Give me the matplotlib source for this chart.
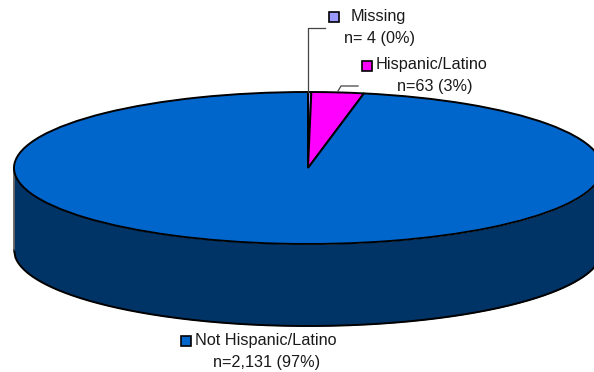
import numpy as np
import matplotlib
matplotlib.use("Agg")
import matplotlib.pyplot as plt
from matplotlib.patches import Rectangle

labels = ["Missing", "Hispanic/Latino", "Not Hispanic/Latino"]
counts = [4, 63, 2131]
notes = ["n= 4 (0%)", "n=63 (3%)", "n=2,131 (97%)"]
colors = ["#9999FF", "#FF00FF", "#0066CC"]
side_color = "#003366"

W, H = 594, 372
CX, CY = 308, 168
RX, RY = 294, 76
DEPTH = 82

plt.rcParams["font.family"] = "Liberation Sans"

fig = plt.figure(figsize=(W / 100, H / 100), dpi=100)
ax = fig.add_axes([0, 0, 1, 1])

# top of the pie is a normal pie squashed by the axis limits
ax.pie(counts, colors=colors, startangle=90, counterclock=False, radius=1,
       wedgeprops={"edgecolor": "black", "linewidth": 1.4})
ax.set_aspect("auto")
ax.set_xlim(-CX / RX, (W - CX) / RX)
ax.set_ylim(-(H - CY) / RY, CY / RY)
ax.set_axis_off()

# side wall
xs = np.linspace(-1, 1, 400)
front = -np.sqrt(1 - xs ** 2)
drop = DEPTH / RY
ax.fill_between(xs, front, front - drop, color=side_color, linewidth=0, zorder=0)
ax.plot(xs, front - drop, color="black", linewidth=1.4, zorder=0.5)
ax.plot([-1, -1], [0, -drop], color="#555555", linewidth=1.2, zorder=0.5)
ax.plot([1, 1], [0, -drop], color="#555555", linewidth=1.2, zorder=0.5)

# labels in pixel coordinates
over = fig.add_axes([0, 0, 1, 1])
over.set_xlim(0, W)
over.set_ylim(H, 0)
over.set_axis_off()
over.patch.set_alpha(0)

over.plot([308, 308, 325], [92, 27.5, 27.5], color="#444444", linewidth=0.9)
over.plot([338, 341, 358], [91, 86, 86], color="#444444", linewidth=0.9)

fs = 11.7
txt = "#1a1a1a"
squares = [(329, 12), (362, 61), (181, 336)]
for (sx, sy), c in zip(squares, colors):
    over.add_patch(Rectangle((sx, sy), 10, 10, facecolor=c, edgecolor="black", linewidth=1.2))

over.text(351, 17, labels[0], fontsize=fs, color=txt, va="center", ha="left")
over.text(379.5, 38, notes[0], fontsize=fs, color=txt, va="center", ha="center")
over.text(376, 65, labels[1], fontsize=fs, color=txt, va="center", ha="left")
over.text(435, 87, notes[1], fontsize=fs, color=txt, va="center", ha="center")
over.text(195, 341, labels[2], fontsize=fs, color=txt, va="center", ha="left")
over.text(266.5, 362, notes[2], fontsize=fs, color=txt, va="center", ha="center")

fig.savefig("out.png", dpi=100)
